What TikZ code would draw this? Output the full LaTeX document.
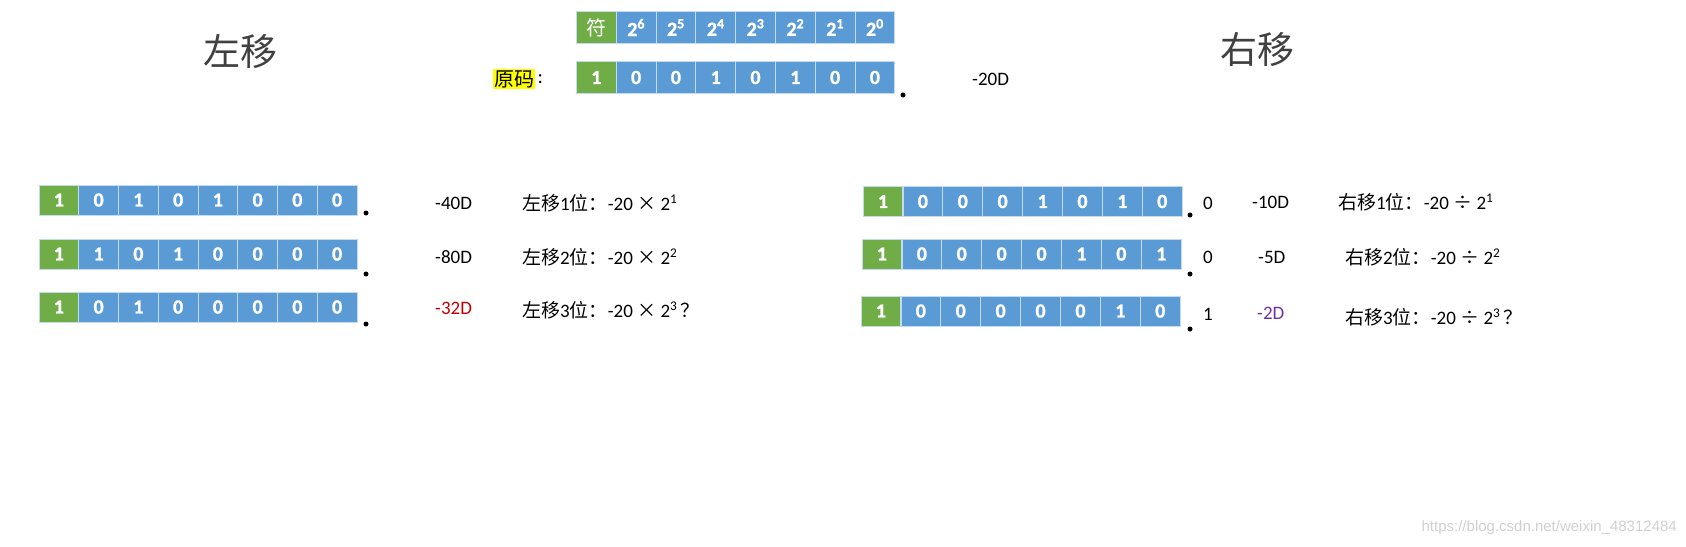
\documentclass[tikz,border=0pt]{standalone}
\usepackage{fontspec}
\setmainfont{Carlito}
\newfontfamily\bitfont{Carlito Bold}[FakeBold=1.2]
\newfontfamily\cjk{Noto Sans CJK SC}
\newfontfamily\urlfont{Liberation Sans}
\usetikzlibrary{positioning}
\definecolor{signgreen}{RGB}{112,173,71}
\definecolor{bitblue}{RGB}{91,155,213}
\definecolor{cellline}{RGB}{196,218,240}
\definecolor{titlegray}{RGB}{64,64,64}
\definecolor{lossred}{RGB}{192,0,0}
\definecolor{losspurple}{RGB}{112,48,160}
\definecolor{markyellow}{RGB}{255,255,0}

\begin{document}
\begin{tikzpicture}[x=1pt, y=-1pt,
    cell/.style={rectangle, draw=cellline, line width=0.8pt, fill=bitblue, text=white, font=\fontsize{20}{20}\selectfont\bitfont, minimum width=39.8pt, minimum height=30pt, inner sep=0pt},
    signcell/.style={cell, fill=signgreen},
    hcell/.style={cell, minimum height=32pt},
    dot/.style={circle, fill=black, inner sep=0pt, minimum size=5pt},
    title/.style={font=\fontsize{37}{37}\selectfont\cjk, text=titlegray},
    lbl/.style={anchor=west, inner sep=0pt, font=\fontsize{19}{19}\selectfont}
]
\fill[white] (0,0) rectangle (1686,546);
\useasboundingbox (0,0) rectangle (1686,546);

% titles
\node[title] (left) at (240,52) {左移};
\node[title] (right) at (1257,50) {右移};

% header and original code
\node[hcell, fill=signgreen] (h0) at (596.3,27.5) {\cjk 符};
\foreach \e [count=\i] in {6,5,4,3,2,1,0}
  \node[hcell] (h\i) at ({576.4+39.8*(\i+0.5)},27.5) {2\textsuperscript{\e}};
\node[lbl, fill=markyellow, inner sep=1pt, font=\fontsize{20}{20}\selectfont\cjk] (orig) at (493,79) {原码};
\node[lbl, right=2pt of orig, font=\fontsize{20}{20}\selectfont] (colon) {:};
\node[hcell, fill=signgreen] (o0) at (596.3,77.5) {1};
\foreach \b [count=\i] in {0,0,1,0,1,0,0}
  \node[hcell] (o\i) at ({576.4+39.8*(\i+0.5)},77.5) {\b};
\node[dot] (od) at (903,95) {};
\node[lbl] (ov) at (972,79) {-20D};

% left shift
\node[signcell] (l1-0) at (58.9,200) {1};
\foreach \b [count=\i] in {0,1,0,1,0,0,0}
  \node[cell] (l1-\i) at ({39+39.75*(\i+0.5)},200) {\b};
\node[signcell] (l2-0) at (58.9,254) {1};
\foreach \b [count=\i] in {1,0,1,0,0,0,0}
  \node[cell] (l2-\i) at ({39+39.75*(\i+0.5)},254) {\b};
\node[signcell] (l3-0) at (58.9,307) {1};
\foreach \b [count=\i] in {0,1,0,0,0,0,0}
  \node[cell] (l3-\i) at ({39+39.75*(\i+0.5)},307) {\b};
\node[dot] (l1d) at (366,213) {};
\node[dot] (l2d) at (366,274) {};
\node[dot] (l3d) at (366,324) {};

\node[lbl] (l1v) at (435,203) {-40D};
\node[lbl] (l2v) at (435,257) {-80D};
\node[lbl, text=lossred] (l3v) at (435,308) {-32D};
\node[lbl] (l1f) at (522,203) {{\cjk 左移}1{\cjk 位：}-20 {\cjk ×} 2\textsuperscript{1}};
\node[lbl] (l2f) at (522,257) {{\cjk 左移}2{\cjk 位：}-20 {\cjk ×} 2\textsuperscript{2}};
\node[lbl] (l3f) at (522,310) {{\cjk 左移}3{\cjk 位：}-20 {\cjk ×} 2\textsuperscript{3}\,{\cjk ？}};

% right shift
\node[signcell] (r1-0) at (882.9,201.5) {1};
\foreach \b [count=\i] in {0,0,0,1,0,1,0}
  \node[cell] (r1-\i) at ({863+39.9*(\i+0.5)},201.5) {\b};
\node[signcell] (r2-0) at (881.9,254) {1};
\foreach \b [count=\i] in {0,0,0,0,1,0,1}
  \node[cell] (r2-\i) at ({862+39.9*(\i+0.5)},254) {\b};
\node[signcell] (r3-0) at (880.9,311) {1};
\foreach \b [count=\i] in {0,0,0,0,0,1,0}
  \node[cell] (r3-\i) at ({861+39.9*(\i+0.5)},311) {\b};
\node[dot] (r1d) at (1190,215) {};
\node[dot] (r2d) at (1190,274) {};
\node[dot] (r3d) at (1190,329) {};
\node[lbl] (r1o) at (1203,203) {0};
\node[lbl] (r2o) at (1203,257) {0};
\node[lbl] (r3o) at (1203,314) {1};

\node[lbl] (r1v) at (1252,202) {-10D};
\node[lbl] (r2v) at (1258,257) {-5D};
\node[lbl, text=losspurple] (r3v) at (1257,313) {-2D};
\node[lbl] (r1f) at (1338,202) {{\cjk 右移}1{\cjk 位：}-20 {\cjk ÷} 2\textsuperscript{1}};
\node[lbl] (r2f) at (1345,257) {{\cjk 右移}2{\cjk 位：}-20 {\cjk ÷} 2\textsuperscript{2}};
\node[lbl] (r3f) at (1345,317) {{\cjk 右移}3{\cjk 位：}-20 {\cjk ÷} 2\textsuperscript{3}\,{\cjk ？}};

\node[anchor=east, inner sep=0pt, font=\urlfont\fontsize{15}{15}\selectfont, text=black!18] (mark) at (1677,528) {https://blog.csdn.net/weixin\_48312484};
\end{tikzpicture}
\end{document}
